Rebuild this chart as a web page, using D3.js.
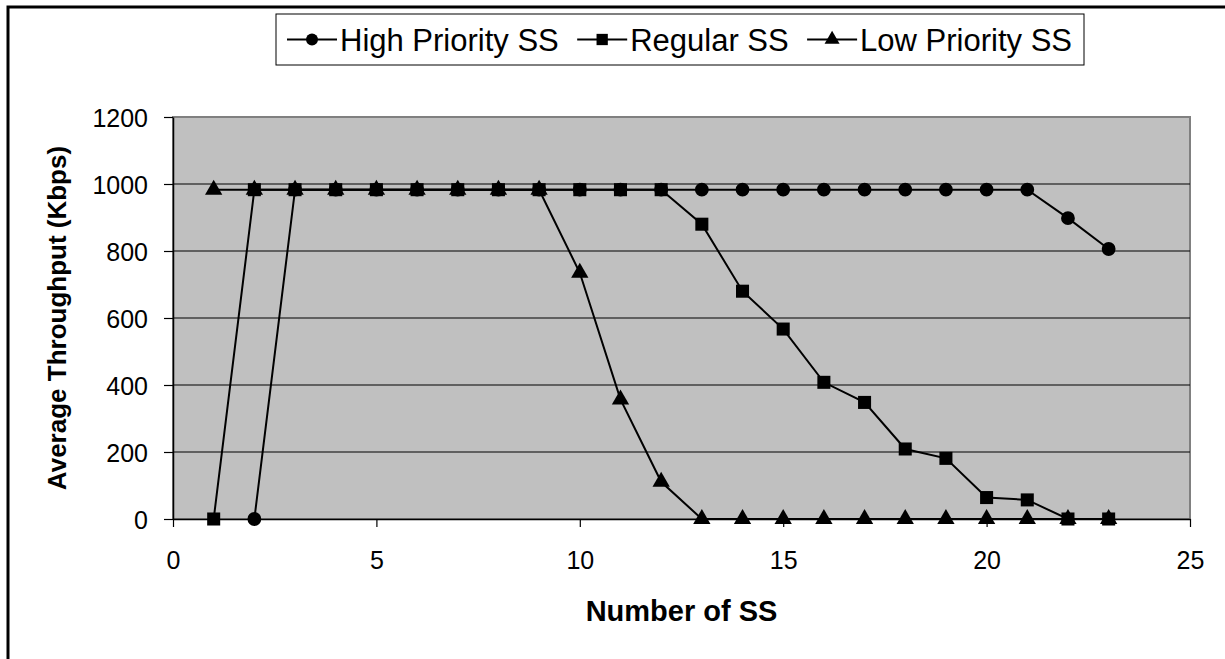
<!DOCTYPE html>
<html>
<head>
<meta charset="utf-8">
<script src="https://cdn.jsdelivr.net/npm/d3@7"></script>
<style>
  body { margin: 0; background: #fff; }
  text { font-family: "Liberation Sans", Arial, sans-serif; fill: #000; }
</style>
</head>
<body>
<div id="chart"></div>
<script>
// data
let xValues = d3.range(1, 24);
let highPriority = [null, 0, 983, 983, 983, 983, 983, 983, 983, 983, 983, 983, 983, 983, 983, 983, 983, 983, 983, 983, 983, 898, 806];
let regular = [0, 983, 983, 983, 983, 983, 983, 983, 983, 983, 983, 983, 880, 680, 567, 408, 348, 209, 181, 64, 57, 0, 0];
let lowPriority = [983, 983, 983, 983, 983, 983, 983, 983, 983, 735, 357, 111, 0, 0, 0, 0, 0, 0, 0, 0, 0, 0, 0];
let seriesNames = ['High Priority SS', 'Regular SS', 'Low Priority SS'];
let markerTypes = [d3.symbolCircle, d3.symbolSquare, d3.symbolTriangle];
let xTicks = [0, 5, 10, 15, 20, 25];
let yTicks = [0, 200, 400, 600, 800, 1000, 1200];

let svgWidth = 1225;
let svgHeight = 659;

// plot area edges
let plot = { left: 173, right: 1190, top: 117, bottom: 519 };

let svg = d3.select('#chart').append('svg')
  .attr('width', svgWidth)
  .attr('height', svgHeight);

// outer frame, only top and left edges fall inside the picture
svg.append('rect')
  .attr('x', 8)
  .attr('y', 7)
  .attr('width', 1300)
  .attr('height', 800)
  .attr('fill', 'none')
  .attr('stroke', '#000')
  .attr('stroke-width', 3);

let xScale = d3.scaleLinear().domain([0, 25]).range([plot.left, plot.right]);
let yScale = d3.scaleLinear().domain([0, 1200]).range([plot.bottom, plot.top]);

// grey plot background
svg.append('rect')
  .attr('x', plot.left)
  .attr('y', plot.top)
  .attr('width', plot.right - plot.left)
  .attr('height', plot.bottom - plot.top)
  .attr('fill', '#c0c0c0')
  .attr('stroke', '#808080')
  .attr('stroke-width', 2);

// gridlines
svg.append('g')
  .selectAll('line')
  .data(yTicks.filter(d => d > 0 && d < 1200))
  .enter()
  .append('line')
  .attr('x1', plot.left)
  .attr('x2', plot.right)
  .attr('y1', d => yScale(d))
  .attr('y2', d => yScale(d))
  .attr('stroke', '#000')
  .attr('stroke-width', 1);

// axes
let xAxis = svg.append('g')
  .attr('transform', `translate(0, ${plot.bottom})`)
  .call(d3.axisBottom(xScale).tickValues(xTicks).tickFormat(d3.format('d'))
    .tickSize(8).tickPadding(24).tickSizeOuter(0));

let yAxis = svg.append('g')
  .attr('transform', `translate(${plot.left}, 0)`)
  .call(d3.axisLeft(yScale).tickValues(yTicks).tickFormat(d3.format('d'))
    .tickSize(9).tickPadding(16).tickSizeOuter(0));

[xAxis, yAxis].forEach(ax => {
  ax.select('.domain').attr('stroke', '#000').attr('stroke-width', 1.5);
  ax.selectAll('.tick line').attr('stroke', '#000').attr('stroke-width', 1.2);
  ax.selectAll('.tick text')
    .attr('font-size', '25px')
    .style('font-family', '"Liberation Sans", Arial, sans-serif');
});
yAxis.selectAll('.tick text').attr('dy', '0.36em');

// axis titles
svg.append('text')
  .attr('x', (plot.left + plot.right) / 2)
  .attr('y', 621)
  .attr('text-anchor', 'middle')
  .attr('font-size', '29px')
  .attr('font-weight', 'bold')
  .text('Number of SS');

svg.append('text')
  .attr('transform', `translate(66, ${(plot.top + plot.bottom) / 2}) rotate(-90)`)
  .attr('text-anchor', 'middle')
  .attr('font-size', '26px')
  .attr('font-weight', 'bold')
  .text('Average Throughput (Kbps)');

// series lines and markers
let allSeries = [highPriority, regular, lowPriority];
let line = d3.line()
  .defined(d => d.y !== null)
  .x(d => xScale(d.x))
  .y(d => yScale(d.y));

let markerSizes = [150, 170, 130];

allSeries.forEach((values, i) => {
  let points = xValues.map((x, j) => ({ x: x, y: values[j] }));
  let g = svg.append('g');
  g.append('path')
    .datum(points)
    .attr('fill', 'none')
    .attr('stroke', '#000')
    .attr('stroke-width', 2)
    .attr('d', line);
  g.selectAll('path.marker')
    .data(points.filter(p => p.y !== null))
    .enter()
    .append('path')
    .classed('marker', true)
    .attr('transform', p => `translate(${xScale(p.x)}, ${yScale(p.y)})`)
    .attr('d', d3.symbol().type(markerTypes[i]).size(markerSizes[i]))
    .attr('fill', '#000');
});

// legend
let legendBox = { left: 276, top: 14, right: 1084, bottom: 65 };
svg.append('rect')
  .attr('x', legendBox.left)
  .attr('y', legendBox.top)
  .attr('width', legendBox.right - legendBox.left)
  .attr('height', legendBox.bottom - legendBox.top)
  .attr('fill', '#fff')
  .attr('stroke', '#000')
  .attr('stroke-width', 1);

let legendY = (legendBox.top + legendBox.bottom) / 2;
let lineLen = 50;
let items = seriesNames.map((name, i) => {
  let g = svg.append('g');
  g.append('line')
    .attr('x1', 0)
    .attr('x2', lineLen)
    .attr('y1', legendY)
    .attr('y2', legendY)
    .attr('stroke', '#000')
    .attr('stroke-width', 2);
  g.append('path')
    .attr('transform', `translate(${lineLen / 2}, ${legendY})`)
    .attr('d', d3.symbol().type(markerTypes[i]).size(markerSizes[i] * 0.75))
    .attr('fill', '#000');
  let label = g.append('text')
    .attr('x', lineLen + 3)
    .attr('y', legendY)
    .attr('dy', '0.36em')
    .attr('font-size', '31px')
    .text(name);
  return { g: g, width: lineLen + 3 + label.node().getComputedTextLength() };
});

// spread items between the first line start and the last text end
let contentStart = 287;
let contentEnd = 1072;
let used = d3.sum(items, d => d.width);
let gap = (contentEnd - contentStart - used) / (items.length - 1);
let cursor = contentStart;
items.forEach(item => {
  item.g.attr('transform', `translate(${cursor}, 0)`);
  cursor += item.width + gap;
});
</script>
</body>
</html>
